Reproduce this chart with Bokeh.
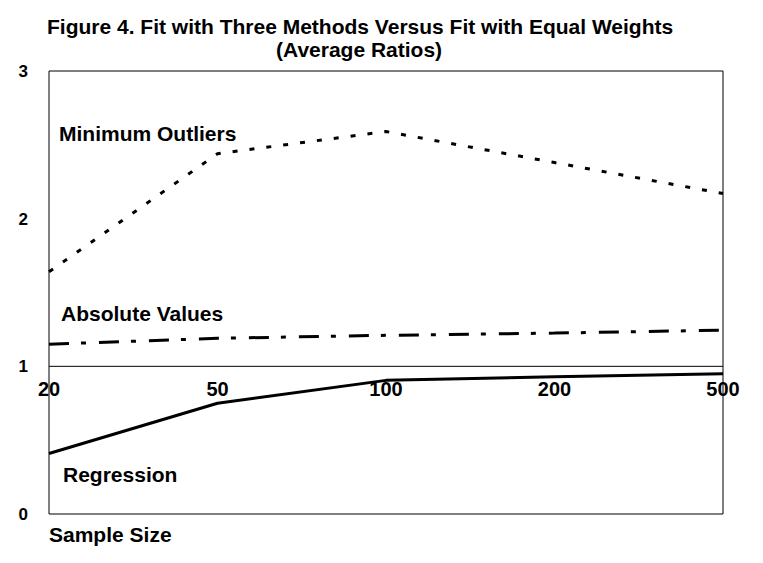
from bokeh.plotting import figure
from bokeh.models import Range1d
from bokeh.core.properties import value
from bokeh.embed import file_html
from bokeh.resources import INLINE

sizes = ["20", "50", "100", "200", "500"]
min_outliers = [1.64, 2.44, 2.59, 2.38, 2.17]
abs_values = [1.15, 1.19, 1.21, 1.225, 1.245]
regression = [0.41, 0.75, 0.905, 0.93, 0.95]
y_ticks = [0, 1, 2, 3]
y_tick_labels = ["0", "1", "2", "3"]
title_lines = ["Figure 4. Fit with Three Methods Versus Fit with Equal Weights",
               "(Average Ratios)"]
x_label = "Sample Size"

FONT = "Liberation Sans"
W, H = 750, 555
# pixel geometry of the plotting box inside the canvas
BOX_L, BOX_R, BOX_T, BOX_B = 48.5, 722.5, 70.5, 513.5
n = len(sizes) - 1
ymax = 3
sx = (BOX_R - BOX_L) / n
sy = (BOX_B - BOX_T) / ymax

xs = list(range(len(sizes)))

p = figure(width=W, height=H, output_backend="svg", toolbar_location=None,
           x_range=Range1d(-BOX_L / sx, n + (W - BOX_R) / sx),
           y_range=Range1d(-(H - BOX_B) / sy, ymax + BOX_T / sy),
           min_border=0)
p.grid.visible = False
p.axis.visible = False
p.outline_line_color = None
p.background_fill_color = "white"
p.border_fill_color = "white"

txt = dict(text_font=value(FONT), text_font_style="bold", text_color="black")

# plotting box, y axis and the reference line at 1
p.quad(left=0, right=n, bottom=0, top=ymax, fill_color=None, line_color="black", line_width=1)
p.segment(x0=[0], y0=[1], x1=[n], y1=[1], line_color="black", line_width=1)

# title lines
p.text(x=[0], y=[ymax], text=[title_lines[0]], x_offset=-2, y_offset=-45,
       text_baseline="middle", text_align="left", text_font_size="21px", **txt)
p.text(x=[0], y=[ymax], text=[title_lines[1]], x_offset=227, y_offset=-22,
       text_baseline="middle", text_align="left", text_font_size="21px", **txt)

# y tick labels
p.text(x=[0] * len(y_ticks), y=y_ticks, text=y_tick_labels, x_offset=-21,
       text_baseline="middle", text_align="right", text_font_size="17px", **txt)

# x label
p.text(x=[0], y=[0], text=[x_label], y_offset=20, text_baseline="middle",
       text_align="left", text_font_size="21px", **txt)

# series
p.line(xs, min_outliers, line_color="black", line_width=3, line_dash="5 12")
p.line(xs, abs_values, line_color="black", line_width=3, line_dash="20 12 5 13")
p.line(xs, regression, line_color="black", line_width=3)

# category labels under the line at 1
p.text(x=xs, y=[1] * len(sizes), text=sizes, y_offset=16, text_align="center",
       text_baseline="top", text_font_size="20px", **txt)

# series labels
p.text(x=[0], y=[2.58], text=["Minimum Outliers"], x_offset=10, text_baseline="middle",
       text_font_size="21px", **txt)
p.text(x=[0], y=[1.36], text=["Absolute Values"], x_offset=12, text_baseline="middle",
       text_font_size="21px", **txt)
p.text(x=[0], y=[0.265], text=["Regression"], x_offset=14, text_baseline="middle",
       text_font_size="21px", **txt)

open("out.html", "w").write(file_html(p, INLINE))
